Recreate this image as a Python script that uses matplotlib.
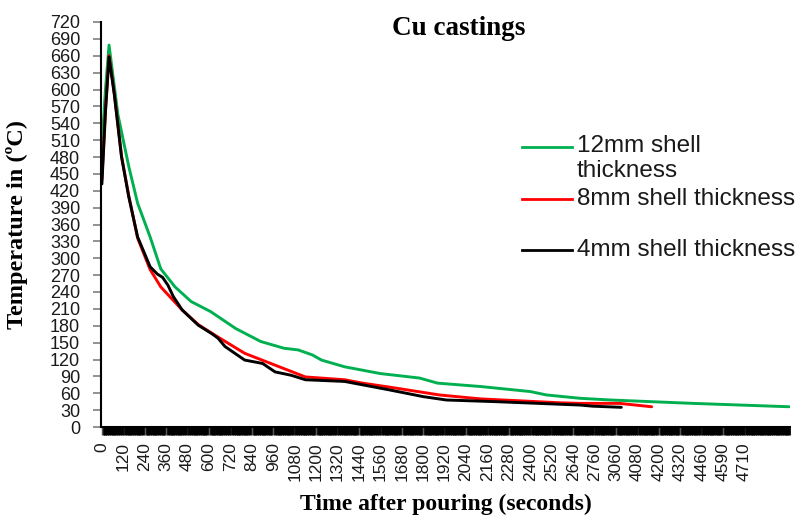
import matplotlib
matplotlib.use("Agg")
import matplotlib.pyplot as plt
from matplotlib.lines import Line2D
import numpy as np

# ---- data ----
time_labels = ["0", "120", "240", "360", "480", "600", "720", "840", "960", "1080",
               "1200", "1320", "1440", "1560", "1680", "1800", "1920", "2040", "2160",
               "2280", "2400", "2520", "2640", "2760", "3060", "4080", "4200", "4320",
               "4460", "4590", "4710"]
samples_per_label = 12
n_samples = 386

idx_12mm = [0, 2, 4, 9, 15, 20, 27, 33, 41, 50, 61, 75, 89, 102, 110, 118, 123, 136,
            156, 178, 188, 212, 240, 249, 268, 285, 331, 385]
temp_12mm = [500, 600, 679, 555, 464, 398, 338, 281, 249, 223, 205, 175, 152, 140, 137,
             128, 119, 107, 95, 87, 78, 72, 63, 57, 51, 48, 42, 36]

idx_8mm = [0, 2, 4, 7, 11, 15, 20, 27, 33, 40, 45, 54, 65, 80, 97, 114, 136, 146, 165,
           189, 212, 257, 268, 290, 308]
temp_8mm = [440, 565, 660, 592, 482, 412, 336, 280, 249, 225, 208, 182, 160, 131, 110,
            89, 84, 78, 69, 57, 50, 43, 42, 42, 36]

idx_4mm = [0, 2, 4, 7, 11, 15, 20, 27, 31, 34, 37, 40, 45, 54, 62, 65, 69, 80, 90, 97,
           106, 114, 136, 146, 161, 180, 193, 221, 268, 275, 291]
temp_4mm = [432, 560, 658, 590, 480, 410, 338, 285, 272, 266, 252, 232, 208, 181, 165,
            158, 143, 119, 113, 98, 92, 84, 81, 75, 66, 54, 48, 45, 39, 37, 35]

series_labels = ["12mm shell\nthickness", "8mm shell thickness", "4mm shell thickness"]
series_colors = ["#00B050", "#FF0000", "#000000"]

# ---- figure ----
W, H = 797, 517
fig = plt.figure(figsize=(W / 100, H / 100), dpi=100)
ax_l, ax_r, ax_t, ax_b = 101, 790, 22, 427
ax = fig.add_axes([ax_l / W, 1 - ax_b / H, (ax_r - ax_l) / W, (ax_b - ax_t) / H])

lw = 2.1
for xs, ys, c in zip([idx_12mm, idx_8mm, idx_4mm], [temp_12mm, temp_8mm, temp_4mm], series_colors):
    ax.plot(xs, ys, color=c, lw=lw, solid_joinstyle="round", solid_capstyle="round")

ax.set_xlim(-0.5, n_samples - 0.5)
ax.set_ylim(0, 720)

# y axis
ax.set_yticks(np.arange(0, 721, 30))
ax.tick_params(axis="y", direction="out", length=6, width=1.2, color="#7f7f7f", pad=9,
               labelsize=13)
for t in ax.get_yticklabels():
    t.set_fontfamily("Liberation Sans")
    t.set_color("#1a1a1a")

# x axis (category axis)
major = np.arange(len(time_labels)) * samples_per_label
ax.set_xticks(major)
ax.set_xticklabels(time_labels, rotation=90, fontsize=12.5, fontfamily="Liberation Sans",
                   color="#1a1a1a")
ax.set_xticks(np.arange(n_samples), minor=True)
ax.tick_params(axis="x", which="major", direction="out", length=6, width=1.0,
               color="#555555", pad=5)
ax.tick_params(axis="x", which="minor", direction="out", length=6, width=2.0,
               color="black")

for s in ["top", "right"]:
    ax.spines[s].set_visible(False)
ax.spines["left"].set_linewidth(1.5)
ax.spines["bottom"].set_linewidth(1.5)

ax.set_xlabel("Time after pouring (seconds)", fontsize=17, fontweight="bold",
              fontfamily="Liberation Serif")
ax.xaxis.set_label_coords(0.5, (ax_b - 494) / (ax_b - ax_t))
ax.set_ylabel("Temperature in (ºC)", fontsize=17.5, fontweight="bold",
              fontfamily="Liberation Serif")
ax.yaxis.set_label_coords((28 - ax_l) / (ax_r - ax_l), 0.5)

fig.text(459 / W, 1 - 35 / H, "Cu castings", fontsize=19.5, fontweight="bold",
         fontfamily="Liberation Serif", ha="center", va="baseline")

# legend (manual, mimicking the reference layout)
leg_rows = [147, 199, 250]
for lab, c, yp in zip(series_labels, series_colors, leg_rows):
    fig.add_artist(Line2D([522 / W, 572 / W], [1 - yp / H, 1 - yp / H],
                          transform=fig.transFigure, color=c, lw=2.0))
    if "\n" in lab:
        fig.text(577 / W, 1 - (yp - 12) / H, lab, fontsize=17.5,
                 fontfamily="Liberation Sans", ha="left", va="top",
                 color="#1a1a1a", linespacing=1.15)
    else:
        fig.text(577 / W, 1 - yp / H, lab, fontsize=17.5,
                 fontfamily="Liberation Sans", ha="left", va="center",
                 color="#1a1a1a")

fig.savefig("out.png", dpi=100)
